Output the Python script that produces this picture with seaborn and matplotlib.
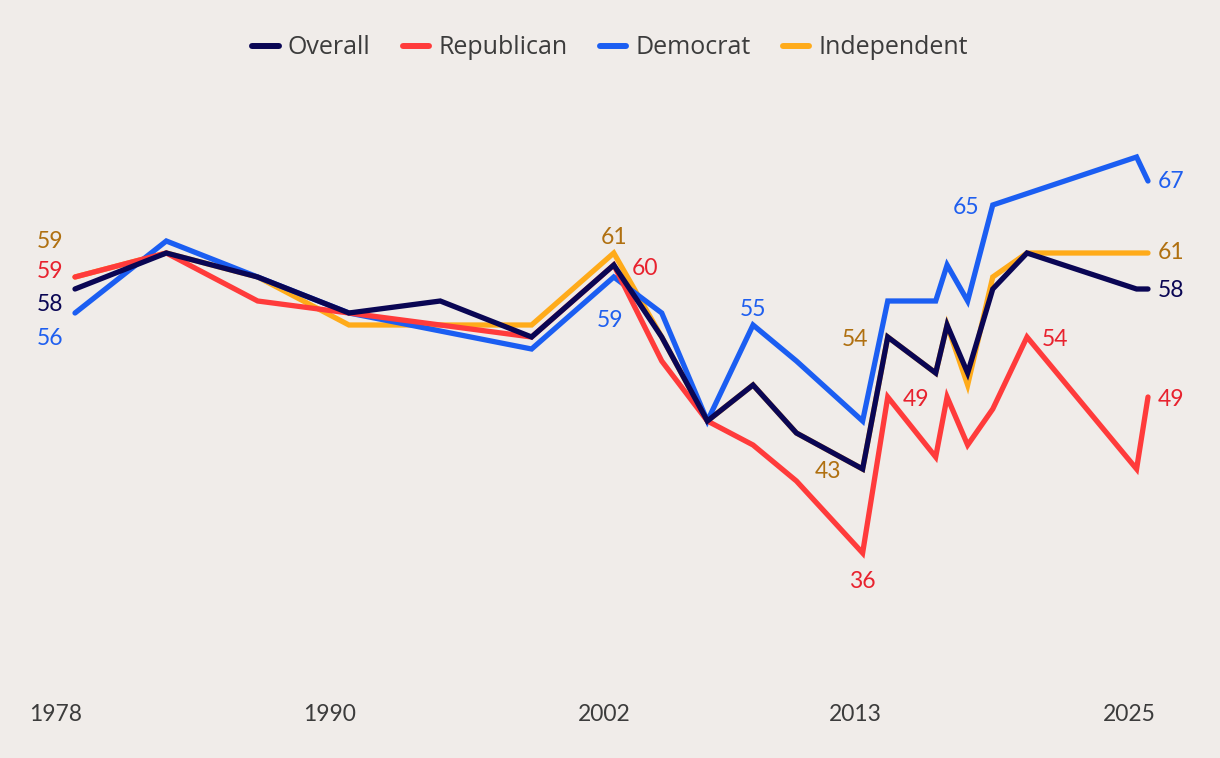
import matplotlib
matplotlib.use("Agg")
import matplotlib.pyplot as plt
import seaborn as sns
import pandas as pd
from matplotlib.lines import Line2D
from matplotlib.transforms import ScaledTranslation

# ---------------- data ----------------
years = [1978.0, 1982.0, 1986.0, 1990.0, 1994.0, 1998.0, 2001.6, 2003.7, 2005.7,
         2007.7, 2009.6, 2012.5, 2013.6, 2015.7, 2016.2, 2017.1, 2018.2, 2019.7,
         2024.5, 2025.0]
overall = [58, 61, 59, 56, 57, 54, 60, 54, 47, 50, 46, 43, 54, 51, 55, 51, 58, 61, 58, 58]
republican = [59, 61, 57, 56, None, 54, 60, 52, 47, 45, 42, 36, 49, 44, 49, 45, 48, 54, 43, 49]
democrat = [56, 62, 59, 56, None, 53, 59, 56, 47, 55, 52, 47, 57, 57, 60, 57, 65, None, 69, 67]
independent = [59, 61, 59, 55, None, 55, 61, 54, 47, 50, 46, 43, 54, 51, 55, 50, 59, 61, 61, 61]
series_names = ["Overall", "Republican", "Democrat", "Independent"]
tick_years = [1978, 1990, 2002, 2013, 2025]

series = {"Overall": overall, "Republican": republican,
          "Democrat": democrat, "Independent": independent}

rows = []
for name, vals in series.items():
    for y, v in zip(years, vals):
        if v is not None:
            rows.append({"year": y, "value": v, "group": name})
df = pd.DataFrame(rows)

# ---------------- style ----------------
BG = "#F0ECE9"
line_colors = {"Overall": "#0A0654", "Republican": "#FF3B3B",
               "Democrat": "#1B5EF2", "Independent": "#FFAB1A"}
label_colors = {"Overall": "#0A0654", "Republican": "#E8222E",
                "Democrat": "#1F5FEF", "Independent": "#B07010"}
TEXT = "#3C3C3C"
FONT = ["Lato", "DejaVu Sans"]

sns.set_theme(style="white")
plt.rcParams["font.family"] = FONT

W, H = 1220, 758
fig = plt.figure(figsize=(W / 100, H / 100), dpi=100, facecolor=BG)

# axes geometry (pixels): 1978 -> x=75, 2025 -> x=1148 ; value v -> y = 289 - 12*(v-58)
ppy = (1148 - 75) / 47.0
x_left_px = 75 - ppy
x_right_px = 1148 + ppy
top_px, bot_px = 130, 680
ax = fig.add_axes([x_left_px / W, (H - bot_px) / H,
                   (x_right_px - x_left_px) / W, (bot_px - top_px) / H])
ax.set_facecolor(BG)
ax.set_xlim(1977, 2026)
ax.set_ylim(58 - (bot_px - 289) / 12.0, 58 + (289 - top_px) / 12.0)

draw_order = ["Independent", "Democrat", "Republican", "Overall"]
sns.lineplot(data=df, x="year", y="value", hue="group", hue_order=draw_order,
             palette=line_colors, linewidth=3.8, errorbar=None, legend=False,
             solid_capstyle="round", solid_joinstyle="miter", clip_on=False, ax=ax)

for s in ax.spines.values():
    s.set_visible(False)
ax.set_yticks([])
ax.set_xlabel("")
ax.set_ylabel("")
ax.set_xticks(tick_years)
ax.set_xticklabels([str(t) for t in tick_years])
ax.tick_params(axis="x", length=0, pad=17, labelsize=16.5, colors=TEXT)
off = ScaledTranslation(-19 / 100, 0, fig.dpi_scale_trans)
for lab in ax.get_xticklabels():
    lab.set_transform(lab.get_transform() + off)

# ---------------- value labels ----------------
annotations = [
    ("Independent", 0, -25, 37, "center"),
    ("Republican", 0, -25, 8, "center"),
    ("Overall", 0, -25, -13, "center"),
    ("Democrat", 0, -25, -23, "center"),
    ("Independent", 6, 0, 18, "center"),
    ("Republican", 6, 31, -1, "center"),
    ("Democrat", 6, -4, -41, "center"),
    ("Democrat", 9, 0, 18, "center"),
    ("Independent", 12, -33, 0, "center"),
    ("Independent", 11, -35, 0, "center"),
    ("Republican", 11, 0, -26, "center"),
    ("Republican", 12, 28, 0, "center"),
    ("Democrat", 16, -27, 0, "center"),
    ("Republican", 17, 28, 0, "center"),
    ("Democrat", 19, 10, 2, "left"),
    ("Independent", 19, 10, 3, "left"),
    ("Overall", 19, 10, 1, "left"),
    ("Republican", 19, 10, 0, "left"),
]
for name, i, dx, dy, ha in annotations:
    v = series[name][i]
    ax.annotate(str(v), xy=(years[i], v), xytext=(dx, dy), textcoords="offset pixels",
                ha=ha, va="center_baseline", fontsize=16.5, color=label_colors[name],
                annotation_clip=False)

# ---------------- legend ----------------
handles = [Line2D([0], [0], color=line_colors[n], linewidth=4.3,
                  solid_capstyle="round") for n in series_names]
leg = fig.legend(handles, series_names, loc="center", bbox_to_anchor=(0.5, 1 - 48 / H),
                 ncol=4, frameon=False, handlelength=1.05,
                 handletextpad=0.36, columnspacing=1.3,
                 prop={"family": ["Open Sans", "DejaVu Sans"], "size": 18})
for t in leg.get_texts():
    t.set_color(TEXT)

fig.savefig("out.png", dpi=100, facecolor=BG)
